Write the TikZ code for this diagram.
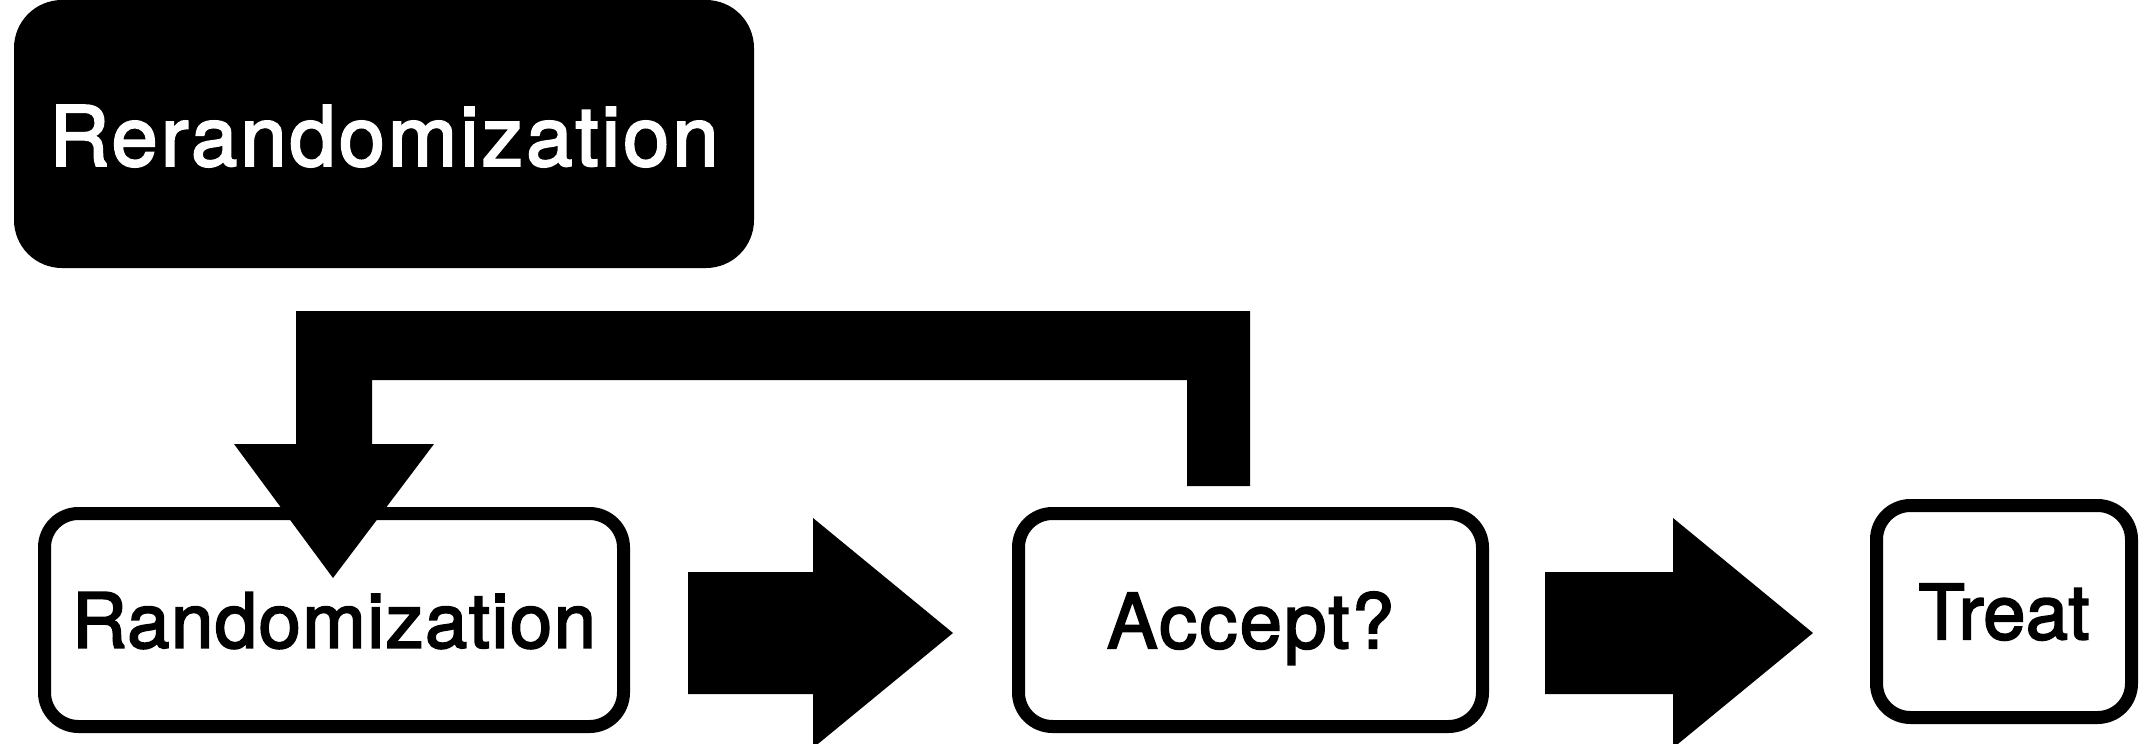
\documentclass[tikz,border=0pt]{standalone}
\usepackage{fontspec}
\setmainfont{TeX Gyre Heros}
\newfontfamily\heavy{TeX Gyre Heros}[FakeBold=2.5]
\usetikzlibrary{calc}
\begin{document}
\begin{tikzpicture}[x=0.5pt,y=-0.5pt,
  box/.style={draw=black,line width=6.5pt,rounded corners=17pt,fill=white,
    inner sep=0pt,minimum height=106.5pt,text depth=0pt},
  boxfont/.style={font=\heavy\fontsize{38pt}{40pt}\selectfont\addfontfeatures{LetterSpace=#1}},
  darkbox/.style={fill=black,rounded corners=24pt,inner sep=0pt,
    minimum width=370pt,minimum height=134pt,text=white,text depth=0pt,
    font=\heavy\fontsize{41.5pt}{44pt}\selectfont\addfontfeatures{LetterSpace=3.7}},
  blockarrow/.style={fill=black}]
\clip (0,0) rectangle (2142,744);
\useasboundingbox (0,0) rectangle (2142,744);
\fill[white] (0,0) rectangle (2142,744);

\node[darkbox] (rerand) at (384,134) {\raisebox{-1.5pt}{Rerandomization}};
\node[box,boxfont=2,minimum width=289.5pt] (rand) at (334,620) {Randomization};
\node[box,boxfont=3,minimum width=232pt] (accept) at (1250.5,620) {Accept?};
\node[box,boxfont=0.5,minimum width=127.5pt,minimum height=106pt] (treat) at (2004,611.5) {Treat};

% block arrows
\coordinate (a1s) at (688,633);
\coordinate (a1e) at (953,633);
\coordinate (a2s) at (1545,633);
\coordinate (a2e) at (1813,633);
\foreach \s/\e in {a1s/a1e,a2s/a2e}{
  \fill[blockarrow] ($(\s)+(0,-61)$) -- ($(\e)+(-140,-61)$) -- ($(\e)+(-140,-115)$)
    -- (\e) -- ($(\e)+(-140,115)$) -- ($(\e)+(-140,61)$) -- ($(\s)+(0,61)$) -- cycle;
}

% loop arrow from Accept? back to Randomization
\coordinate (loopstart) at (1218.5,486);
\coordinate (looptip) at (333,578);
\fill[blockarrow] ($(loopstart)+(-31.5,0)$) -- ($(loopstart)+(31.5,0)$) -- (1250,311)
  -- (296,311) -- (296,444) -- (234,444) -- (looptip) -- (434,444) -- (372,444)
  -- (372,380) -- (1187,380) -- cycle;
\end{tikzpicture}
\end{document}
